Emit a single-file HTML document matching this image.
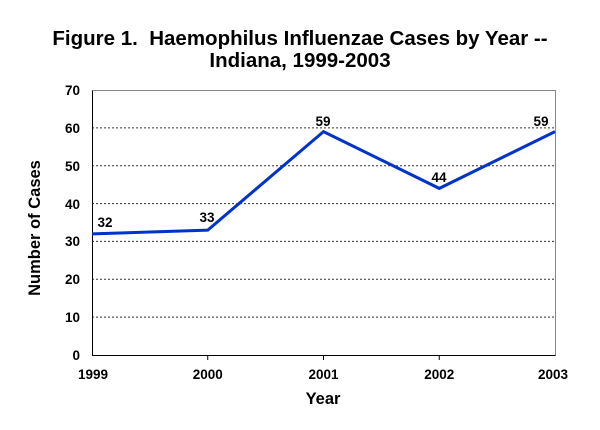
<!DOCTYPE html>
<html><head><style>body{margin:0;background:#fff}</style></head><body>
<svg width="600" height="425" xmlns="http://www.w3.org/2000/svg" font-family="Liberation Sans, Arial, sans-serif" font-weight="bold">
<text x="300" y="45" font-size="20.5" text-anchor="middle">Figure 1.&#160; Haemophilus Influenzae Cases by Year --</text>
<text x="300" y="67" font-size="20.5" text-anchor="middle">Indiana, 1999-2003</text>
<g stroke="#333" stroke-width="1" stroke-dasharray="2,2">
<line x1="92" x2="555" y1="127.9" y2="127.9"/>
<line x1="92" x2="555" y1="165.7" y2="165.7"/>
<line x1="92" x2="555" y1="203.6" y2="203.6"/>
<line x1="92" x2="555" y1="241.4" y2="241.4"/>
<line x1="92" x2="555" y1="279.3" y2="279.3"/>
<line x1="92" x2="555" y1="317.1" y2="317.1"/>
</g>
<path d="M92.5 90.5H555.5V355.5" fill="none" stroke="#888" stroke-width="1"/>
<path d="M92.5 90.5V355.5H555.5" fill="none" stroke="#000" stroke-width="1"/>
<g stroke="#000"><line x1="207.75" x2="207.75" y1="355" y2="360"/><line x1="323.5" x2="323.5" y1="355" y2="360"/><line x1="439.25" x2="439.25" y1="355" y2="360"/></g>
<g font-size="13.5" text-anchor="end">
<text x="80" y="95">70</text><text x="80" y="133">60</text><text x="80" y="171">50</text><text x="80" y="209">40</text><text x="80" y="246">30</text><text x="80" y="284">20</text><text x="80" y="322">10</text><text x="80" y="360">0</text>
</g>
<g font-size="13.5" text-anchor="middle">
<text x="93" y="379">1999</text><text x="207.75" y="379">2000</text><text x="323.5" y="379">2001</text><text x="439.25" y="379">2002</text><text x="553" y="379">2003</text>
</g>
<polyline points="92,233.9 207.75,230.1 323.5,131.6 439.25,188.4 555,131.6" fill="none" stroke="#0033cc" stroke-width="3"/>
<g font-size="13.5" text-anchor="middle">
<text x="105" y="227">32</text><text x="207" y="222">33</text><text x="323" y="126">59</text><text x="439" y="182">44</text><text x="541" y="126">59</text>
</g>
<text x="323" y="404" font-size="16.5" text-anchor="middle">Year</text>
<text transform="translate(40,228) rotate(-90)" font-size="16.5" text-anchor="middle">Number of Cases</text>
</svg>
</body></html>
